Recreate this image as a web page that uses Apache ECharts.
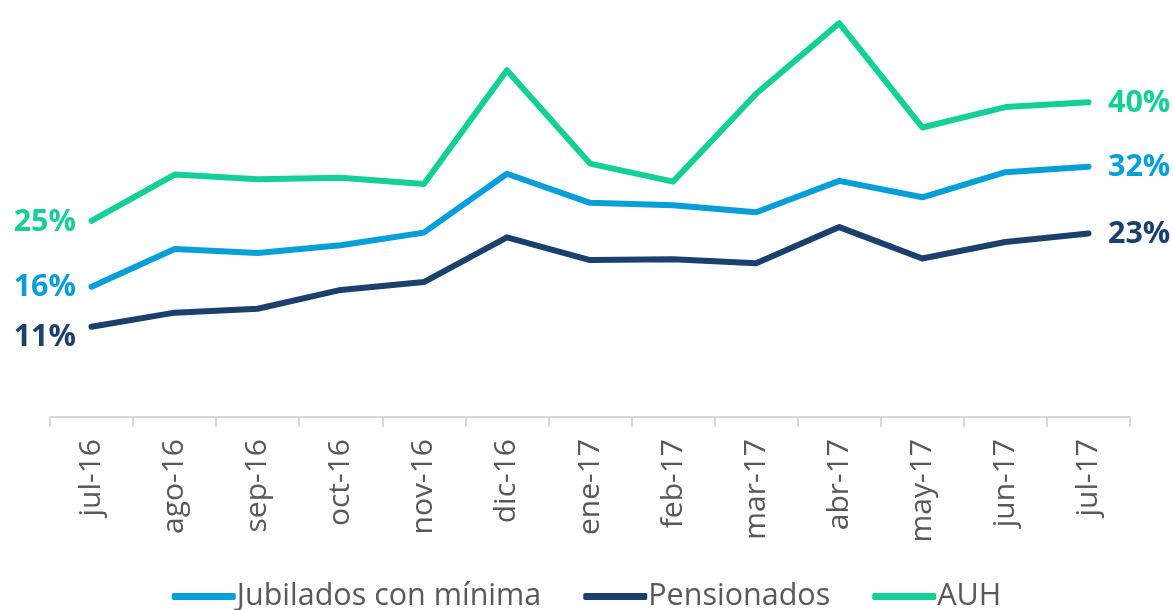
<!DOCTYPE html>
<html>
<head>
<meta charset="utf-8">
<script src="https://cdn.jsdelivr.net/npm/echarts@6/dist/echarts.min.js"></script>
<style>
  html, body { margin: 0; padding: 0; background: #fff; }
  #chart { width: 1173px; height: 610px; }
</style>
</head>
<body>
<div id="chart"></div>
<script>
const months = ['jul-16', 'ago-16', 'sep-16', 'oct-16', 'nov-16', 'dic-16', 'ene-17',
  'feb-17', 'mar-17', 'abr-17', 'may-17', 'jun-17', 'jul-17'];

const jubilados = [16.6, 21.4, 20.9, 21.9, 23.5, 31.0, 27.3, 27.0, 26.1, 30.1, 28.0, 31.2, 31.9];
const pensionados = [11.5, 13.3, 13.8, 16.2, 17.2, 22.9, 20.0, 20.1, 19.6, 24.2, 20.2, 22.3, 23.4];
const auh = [25.0, 30.9, 30.3, 30.5, 29.7, 44.2, 32.3, 30.0, 41.2, 50.2, 36.9, 39.5, 40.1];

// etiquetas de inicio y fin
const jubiladosLabels = ['16%', '32%'];
const pensionadosLabels = ['11%', '23%'];
const auhLabels = ['25%', '40%'];

const FONT = '"Open Sans", "Noto Sans", sans-serif';

const chart = echarts.init(document.getElementById('chart'));

function withEndLabels(values, labels, color, startOffset) {
  return values.map((v, i) => {
    if (i === 0 || i === values.length - 1) {
      const first = i === 0;
      return {
        value: v,
        label: {
          show: true,
          position: first ? 'left' : 'right',
          distance: first ? 15 : 19,
          offset: first ? [0, startOffset] : [0, 1],
          formatter: first ? labels[0] : labels[1],
          color: color,
          fontFamily: FONT,
          fontWeight: 'bold',
          fontSize: 30.5
        }
      };
    }
    return v;
  });
}

function lineSeries(name, values, labels, color, startOffset) {
  return {
    name: name,
    type: 'line',
    data: withEndLabels(values, labels, color, startOffset),
    symbol: 'circle',
    symbolSize: 1,
    showSymbol: true,
    itemStyle: { color: color },
    lineStyle: { width: 6, color: color, cap: 'round', join: 'round' },
    emphasis: { disabled: true }
  };
}

const colors = {
  jub: '#069fd9',
  pen: '#1b406e',
  auh: '#14cf98'
};

chart.setOption({
  animation: false,
  grid: {
    left: 50,
    right: 43,
    top: 9,
    bottom: 193
  },
  legend: {
    top: 576,
    left: 'center',
    itemWidth: 64,
    itemHeight: 7,
    itemGap: 42,
    icon: 'roundRect',
    textStyle: {
      color: '#595959',
      fontFamily: FONT,
      fontSize: 30.5,
      padding: [0, 0, 0, -4]
    },
    data: ['Jubilados con mínima', 'Pensionados', 'AUH']
  },
  xAxis: {
    type: 'category',
    data: months,
    boundaryGap: true,
    axisLine: { lineStyle: { color: '#d9d9d9', width: 2 } },
    axisTick: { show: true, length: 10, interval: 0, lineStyle: { color: '#d9d9d9', width: 2 } },
    axisLabel: {
      rotate: 90,
      interval: 0,
      margin: 22,
      color: '#595959',
      fontFamily: FONT,
      fontSize: 30
    },
    splitLine: { show: false }
  },
  yAxis: {
    type: 'value',
    min: 0,
    max: 52,
    show: false,
    splitLine: { show: false }
  },
  series: [
    lineSeries('Jubilados con mínima', jubilados, jubiladosLabels, colors.jub, 1),
    lineSeries('Pensionados', pensionados, pensionadosLabels, colors.pen, 11),
    lineSeries('AUH', auh, auhLabels, colors.auh, 1)
  ]
});
</script>
</body>
</html>
